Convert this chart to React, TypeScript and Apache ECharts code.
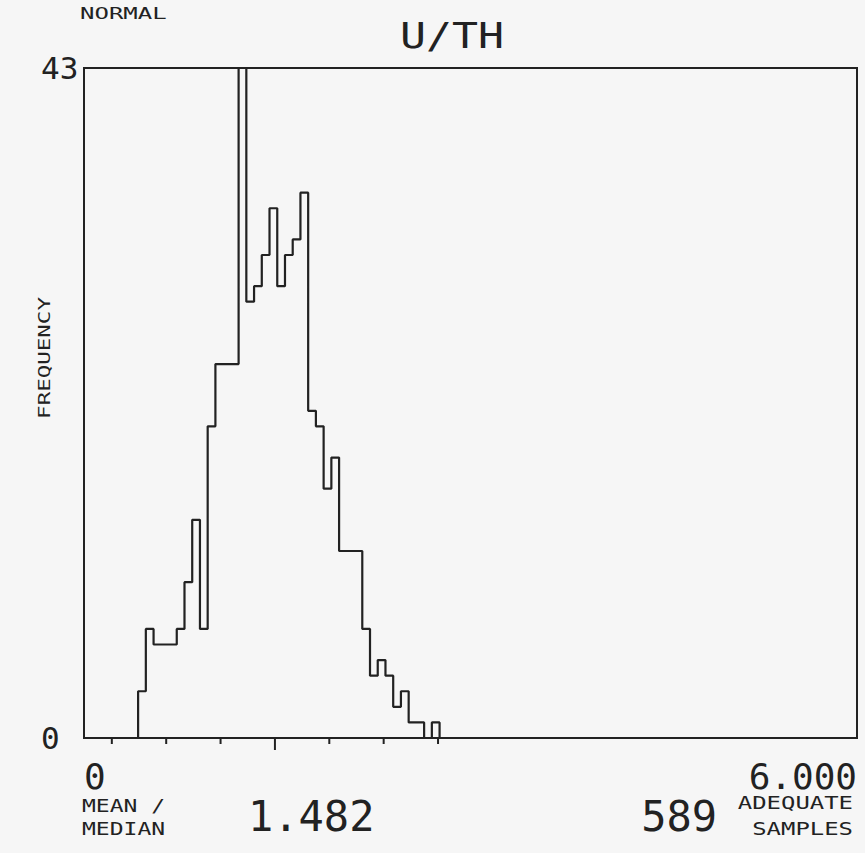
import React, { useEffect, useRef } from "react";
import * as echarts from "echarts";

// Histogram of U/TH ratio: 100 bins of width 0.06 spanning 0..6
const BIN_WIDTH = 0.06;
const FIRST_BIN = 7; // index of the first non-empty bin
const binCounts = [
  3, 7, 6, 6, 6, 7, 10, 14, 7, 20,
  24, 24, 24, 43, 28, 29, 31, 34, 29, 31,
  32, 35, 21, 20, 16, 18, 12, 12, 12, 7,
  4, 5, 4, 2, 3, 1, 1, 0, 1,
];
// tick marks at mean and ±1, ±2, ±3 standard deviations
const meanValue = 1.482;
const sdTicks = [0.216, 0.638, 1.06, 1.482, 1.904, 2.326, 2.748];
const xLabels = ["0", "6.000"];
const yLabels = ["0", "43"];
const sampleCount = 589;

const FONT = "'DejaVu Sans Mono', monospace";
const INK = "#222222";

export default function App() {
  const ref = useRef<HTMLDivElement>(null);
  useEffect(() => {
    if (!ref.current) return;
    const chart = echarts.init(ref.current, null, { renderer: "svg" });

    const stepData: [number, number][] = [[FIRST_BIN * BIN_WIDTH, 0]];
    binCounts.forEach((c, i) => {
      stepData.push([(FIRST_BIN + i) * BIN_WIDTH, c]);
    });
    stepData.push([(FIRST_BIN + binCounts.length) * BIN_WIDTH, 0]);

    const option: any = {
      animation: false,
      backgroundColor: "#f6f6f6",
      grid: {
        left: 84,
        top: 68,
        width: 773,
        height: 670,
        show: true,
        borderColor: INK,
        borderWidth: 2,
        backgroundColor: "transparent",
      },
      xAxis: {
        type: "value",
        min: 0,
        max: 6,
        interval: 6,
        axisLine: { show: false },
        axisTick: { show: false },
        splitLine: { show: false },
        axisLabel: {
          margin: 20,
          fontFamily: FONT,
          fontSize: 36,
          color: INK,
          alignMinLabel: "left",
          alignMaxLabel: "right",
          formatter: (v: number) => (v === 0 ? xLabels[0] : xLabels[1]),
        },
      },
      yAxis: {
        type: "value",
        min: 0,
        max: 43,
        interval: 43,
        axisLine: { show: false },
        axisTick: { show: false },
        splitLine: { show: false },
        axisLabel: {
          margin: 43,
          align: "left",
          fontFamily: FONT,
          fontSize: 31,
          color: INK,
          formatter: (v: number) => (v === 0 ? yLabels[0] : yLabels[1]),
        },
      },
      series: [
        {
          type: "line",
          step: "end",
          data: stepData,
          showSymbol: false,
          lineStyle: { color: INK, width: 2.2 },
          silent: true,
        },
        {
          type: "custom",
          data: sdTicks.map((v) => [v, v === meanValue ? 1 : 0]),
          clip: false,
          silent: true,
          renderItem: (params: any, api: any) => {
            const p = api.coord([api.value(0), 0]);
            const len = api.value(1) ? 12 : 6;
            return {
              type: "line",
              shape: { x1: p[0], y1: p[1], x2: p[0], y2: p[1] + len },
              style: { stroke: INK, lineWidth: 2 },
            };
          },
        },
      ],
      graphic: [
        {
          type: "text", x: 80, y: 14, scaleX: 1.6,
          style: { text: "NORMAL", font: `15px ${FONT}`, fill: INK, textAlign: "left", textVerticalAlign: "middle" },
        },
        {
          type: "text", x: 452, y: 35, scaleX: 1.2,
          style: { text: "U/TH", font: `36px ${FONT}`, fill: INK, textAlign: "center", textVerticalAlign: "middle" },
        },
        {
          type: "text", x: 45, y: 358, rotation: Math.PI / 2, scaleX: 1.5,
          style: { text: "FREQUENCY", font: `15px ${FONT}`, fill: INK, textAlign: "center", textVerticalAlign: "middle" },
        },
        {
          type: "text", x: 82, y: 806, scaleX: 1.28,
          style: { text: "MEAN /", font: `18px ${FONT}`, fill: INK, textAlign: "left", textVerticalAlign: "middle" },
        },
        {
          type: "text", x: 82, y: 829, scaleX: 1.28,
          style: { text: "MEDIAN", font: `18px ${FONT}`, fill: INK, textAlign: "left", textVerticalAlign: "middle" },
        },
        {
          type: "text", x: 248, y: 816,
          style: { text: meanValue.toFixed(3), font: `42px ${FONT}`, fill: INK, textAlign: "left", textVerticalAlign: "middle" },
        },
        {
          type: "text", x: 717, y: 816, 
          style: { text: String(sampleCount), font: `42px ${FONT}`, fill: INK, textAlign: "right", textVerticalAlign: "middle" },
        },
        {
          type: "text", x: 853, y: 803, scaleX: 1.33,
          style: { text: "ADEQUATE", font: `18px ${FONT}`, fill: INK, textAlign: "right", textVerticalAlign: "middle" },
        },
        {
          type: "text", x: 853, y: 829, scaleX: 1.33,
          style: { text: "SAMPLES", font: `18px ${FONT}`, fill: INK, textAlign: "right", textVerticalAlign: "middle" },
        },
      ],
    };
    chart.setOption(option);
    return () => chart.dispose();
  }, []);
  return (
    <div
      ref={ref}
      style={{ position: "fixed", left: 0, top: 0, width: 865, height: 853 }}
    />
  );
}
